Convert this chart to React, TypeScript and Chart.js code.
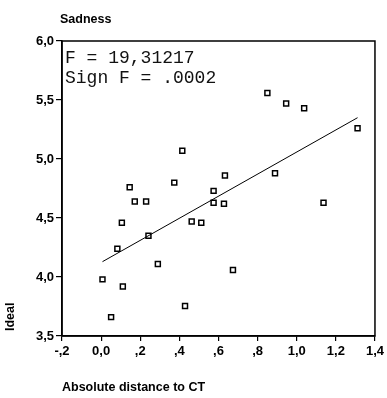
import React, { useEffect, useRef } from "react";
import { Chart, registerables } from "chart.js";

Chart.register(...registerables);

// Scatter data: absolute distance to CT (x) vs Ideal sadness (y)
const distanceValues = [
  0.007, 0.051, 0.083, 0.106, 0.111, 0.146, 0.172, 0.23, 0.242, 0.29,
  0.374, 0.415, 0.429, 0.463, 0.512, 0.575, 0.575, 0.628, 0.633, 0.674,
  0.85, 0.889, 0.946, 1.038, 1.137, 1.311,
];
const sadnessValues = [
  3.98, 3.66, 4.24, 4.46, 3.92, 4.76, 4.64, 4.64, 4.35, 4.11,
  4.8, 5.07, 3.755, 4.47, 4.46, 4.73, 4.63, 4.62, 4.86, 4.06,
  5.56, 4.88, 5.47, 5.43, 4.63, 5.26,
];
// Regression line endpoints
const fitX = [0.007, 1.311];
const fitY = [4.13, 5.35];

const xTickLabels = ["-,2", "0,0", ",2", ",4", ",6", ",8", "1,0", "1,2", "1,4"];
const yTickLabels = ["3,5", "4,0", "4,5", "5,0", "5,5", "6,0"];

const chartTitle = "Sadness";
const yTitle = "Ideal";
const xTitle = "Absolute distance to CT";
const annotationLines = ["F = 19,31217", "Sign F = .0002"];

const SANS = "'Liberation Sans', Arial, sans-serif";
const MONO = "'Liberation Mono', 'Courier New', monospace";

const textPlugin = {
  id: "texts",
  afterDraw(chart: any) {
    const { ctx, chartArea } = chart;
    ctx.save();
    // Frame around plot area
    ctx.strokeStyle = "#000";
    ctx.lineWidth = 1.5;
    ctx.strokeRect(chartArea.left, chartArea.top, chartArea.right - chartArea.left, chartArea.bottom - chartArea.top);

    ctx.fillStyle = "#000";
    ctx.textBaseline = "alphabetic";
    ctx.textAlign = "left";
    ctx.font = `bold 12.5px ${SANS}`;
    ctx.fillText(chartTitle, 60, 23);

    ctx.font = `bold 12.5px ${SANS}`;
    ctx.fillText(xTitle, 62, 391);

    ctx.save();
    ctx.translate(14, 331);
    ctx.rotate(-Math.PI / 2);
    ctx.fillText(yTitle, 0, 0);
    ctx.restore();

    ctx.fillStyle = "#111";
    ctx.font = `18px ${MONO}`;
    ctx.fillText(annotationLines[0], chartArea.left + 3, 63);
    ctx.fillText(annotationLines[1], chartArea.left + 3, 83);
    ctx.restore();
  },
};

const bgPlugin = {
  id: "bg",
  beforeDraw(chart: any) {
    const { ctx, width, height } = chart;
    ctx.save();
    ctx.fillStyle = "#fff";
    ctx.fillRect(0, 0, width, height);
    ctx.restore();
  },
};

export default function App() {
  const canvasRef = useRef<HTMLCanvasElement | null>(null);

  useEffect(() => {
    if (!canvasRef.current) return;
    const points = distanceValues.map((x, i) => ({ x, y: sadnessValues[i] }));
    const fit = fitX.map((x, i) => ({ x, y: fitY[i] }));
    const chart = new Chart(canvasRef.current, {
      type: "scatter",
      data: {
        datasets: [
          {
            type: "line",
            data: fit,
            borderColor: "#000",
            borderWidth: 1,
            pointRadius: 0,
            showLine: true,
            fill: false,
          } as any,
          {
            data: points,
            pointStyle: "rect",
            pointRadius: 3.5,
            pointBorderWidth: 1.5,
            pointBorderColor: "#000",
            pointBackgroundColor: "#fff",
          },
        ],
      },
      options: {
        responsive: false,
        animation: false,
        layout: { padding: { top: 41, right: 11, left: 0, bottom: 0 } },
        plugins: {
          legend: { display: false },
          tooltip: { enabled: false },
        },
        scales: {
          x: {
            type: "linear",
            min: -0.2,
            max: 1.4,
            afterFit(scale: any) {
              scale.height = 62;
            },
            afterBuildTicks(scale: any) {
              scale.ticks = xTickLabels.map((_, i) => ({ value: -0.2 + i * 0.2 }));
            },
            ticks: {
              autoSkip: false,
              maxRotation: 0,
              padding: 3,
              color: "#000",
              font: { family: SANS, size: 13, weight: "bold" },
              callback: (_v: any, i: number) => xTickLabels[i],
            },
            grid: { drawOnChartArea: false, drawTicks: true, tickLength: 5, color: "#000", lineWidth: 1.2 },
            border: { display: true, color: "#000", width: 1.5 },
          },
          y: {
            type: "linear",
            min: 3.5,
            max: 6.0,
            afterFit(scale: any) {
              scale.width = 62;
            },
            afterBuildTicks(scale: any) {
              scale.ticks = yTickLabels.map((_, i) => ({ value: 3.5 + i * 0.5 }));
            },
            ticks: {
              autoSkip: false,
              padding: 2,
              color: "#000",
              font: { family: SANS, size: 13, weight: "bold" },
              callback: (_v: any, i: number) => yTickLabels[i],
            },
            grid: { drawOnChartArea: false, drawTicks: true, tickLength: 6, color: "#000", lineWidth: 1.2 },
            border: { display: true, color: "#000", width: 1.5 },
          },
        },
      },
      plugins: [bgPlugin, textPlugin],
    });
    return () => chart.destroy();
  }, []);

  return (
    <div style={{ position: "absolute", left: 0, top: 0, width: 387, height: 398, background: "#fff" }}>
      <canvas ref={canvasRef} width={387} height={398} style={{ display: "block" }} />
    </div>
  );
}
